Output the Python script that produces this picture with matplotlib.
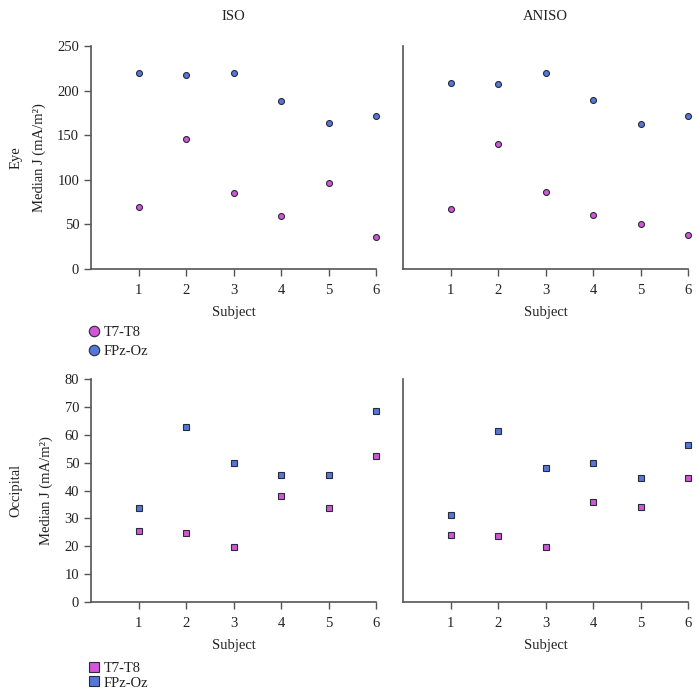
import matplotlib
matplotlib.use("Agg")
import matplotlib.pyplot as plt
from matplotlib.lines import Line2D

plt.rcParams['font.family'] = ['Liberation Serif', 'DejaVu Serif']

subjects = [1, 2, 3, 4, 5, 6]
col_titles = ["ISO", "ANISO"]
row_titles = ["Eye", "Occipital"]
series_names = ["T7-T8", "FPz-Oz"]

eye_iso_t7 = [69, 146, 85, 59, 96, 36]
eye_iso_fpz = [220, 217, 220, 188, 164, 172]
eye_aniso_t7 = [67, 140, 86, 61, 51, 38]
eye_aniso_fpz = [209, 207, 220, 190, 162, 172]

occ_iso_t7 = [25.5, 24.6, 19.6, 38.1, 33.6, 52.5]
occ_iso_fpz = [33.6, 62.9, 49.9, 45.7, 45.7, 68.4]
occ_aniso_t7 = [24.0, 23.6, 19.7, 36.0, 34.2, 44.6]
occ_aniso_fpz = [31.3, 61.5, 48.1, 49.8, 44.6, 56.4]

eye_yticks = [0, 50, 100, 150, 200, 250]
occ_yticks = [0, 10, 20, 30, 40, 50, 60, 70, 80]

c_t7 = "#d256d6"
c_fpz = "#5478d8"
edge = "#2a2a3a"
spine_c = "#555555"
txt_c = "#222222"

fig = plt.figure(figsize=(6.99, 6.95), dpi=100)

def make_ax(rect):
    ax = fig.add_axes(rect)
    for s in ["top", "right"]:
        ax.spines[s].set_visible(False)
    for s in ["left", "bottom"]:
        ax.spines[s].set_color(spine_c)
        ax.spines[s].set_linewidth(1.2)
    ax.set_xlim(0, 6)
    ax.set_xticks(subjects)
    ax.tick_params(axis='both', direction='out', length=5, color=spine_c,
                   labelsize=10.5, labelcolor=txt_c, width=1.0)
    ax.tick_params(axis='x', pad=6)
    return ax

L1, R1 = 91/699, 376/699
L2, R2 = 403/699, 688/699
top_b, top_t = 1-269/695, 1-46/695
bot_b, bot_t = 1-602/695, 1-379/695

panels = [
    ((L1, top_b, R1-L1, top_t-top_b), eye_iso_t7, eye_iso_fpz, 'o', (0, 250), eye_yticks, True),
    ((L2, top_b, R2-L2, top_t-top_b), eye_aniso_t7, eye_aniso_fpz, 'o', (0, 250), eye_yticks, False),
    ((L1, bot_b, R1-L1, bot_t-bot_b), occ_iso_t7, occ_iso_fpz, 's', (0, 80), occ_yticks, True),
    ((L2, bot_b, R2-L2, bot_t-bot_b), occ_aniso_t7, occ_aniso_fpz, 's', (0, 80), occ_yticks, False),
]

axes = []
for rect, t7, fpz, mk, ylim, yt, showy in panels:
    ax = make_ax(rect)
    ax.plot(subjects, t7, linestyle='none', marker=mk, ms=4.3, mfc=c_t7, mec=edge, mew=0.8, clip_on=False)
    ax.plot(subjects, fpz, linestyle='none', marker=mk, ms=4.3, mfc=c_fpz, mec=edge, mew=0.8, clip_on=False)
    ax.set_ylim(*ylim)
    if showy:
        ax.set_yticks(yt)
    else:
        ax.set_yticks([])
    ax.set_xlabel("Subject", fontsize=10.5, color=txt_c, labelpad=6)
    axes.append(ax)

axes[0].set_ylabel("Median J (mA/m²)", fontsize=10.5, color=txt_c, labelpad=8)
axes[2].set_ylabel("Median J (mA/m²)", fontsize=10.5, color=txt_c, labelpad=8)

fig.text((L1+R1)/2, 1-16/695, col_titles[0], ha='center', va='center', fontsize=10.5, color=txt_c)
fig.text((L2+R2)/2, 1-16/695, col_titles[1], ha='center', va='center', fontsize=10.5, color=txt_c)
fig.text(16/699, (top_b+top_t)/2, row_titles[0], rotation=90, ha='center', va='center', fontsize=10.5, color=txt_c)
fig.text(16/699, (bot_b+bot_t)/2, row_titles[1], rotation=90, ha='center', va='center', fontsize=10.5, color=txt_c)

for mk, y0, ms, sp in [('o', 1-342/695, 7.5, 0.35), ('s', 1-675.5/695, 7, 0.12)]:
    handles = [Line2D([], [], linestyle='none', marker=mk, ms=ms, mfc=c, mec=edge, mew=0.8)
               for c in (c_t7, c_fpz)]
    fig.legend(handles, series_names, loc='center left', bbox_to_anchor=(88/699, y0),
               frameon=False, fontsize=10.5, handlelength=0.8, handletextpad=0.3,
               labelspacing=sp, borderpad=0, borderaxespad=0, labelcolor=txt_c)

fig.savefig("out.png", dpi=100)
